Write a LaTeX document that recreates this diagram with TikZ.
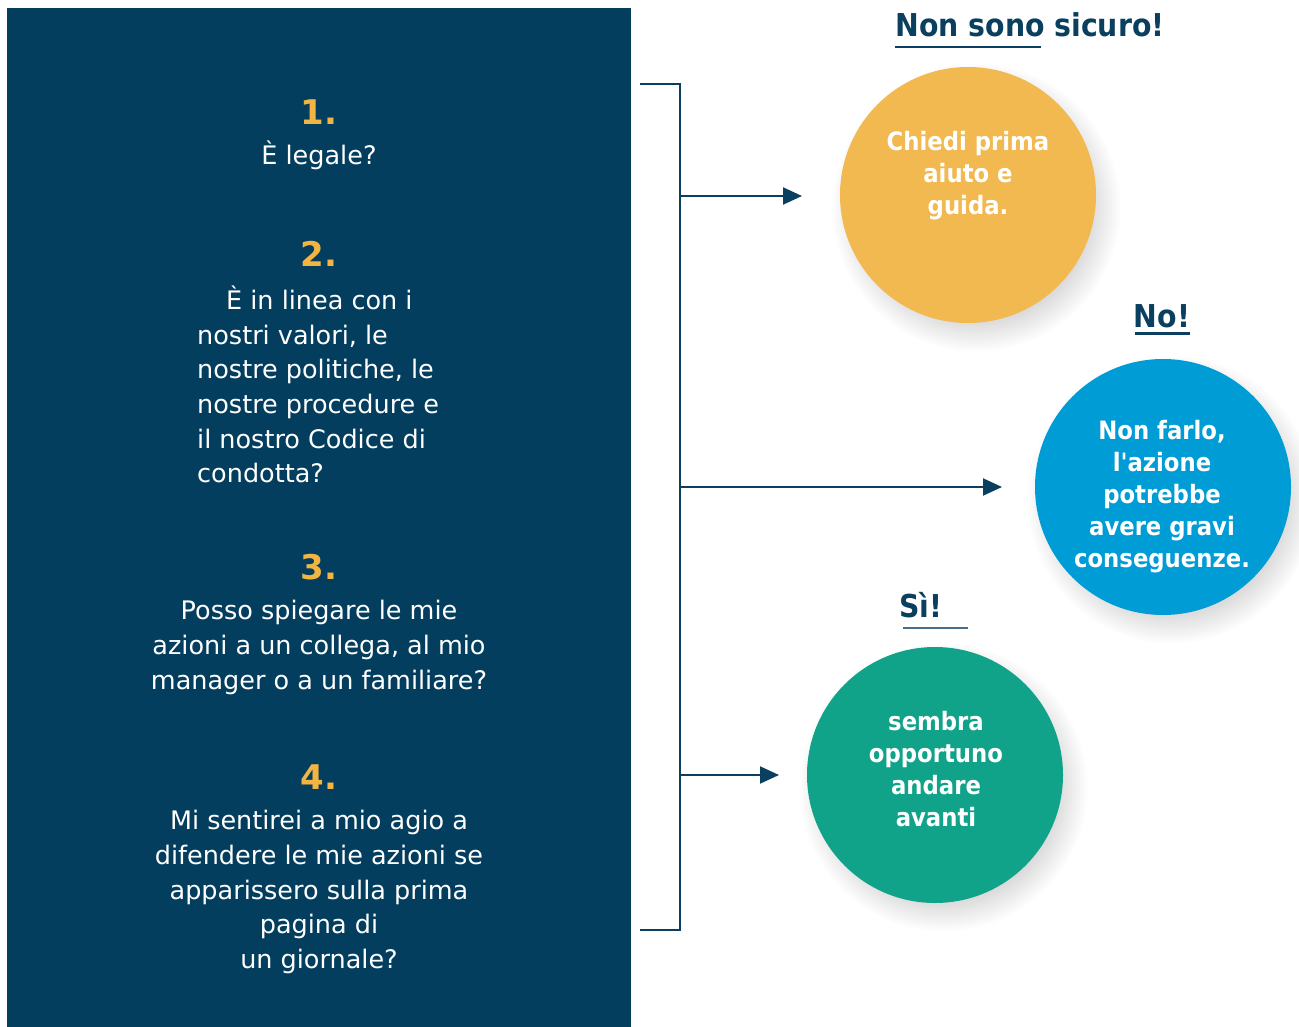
\documentclass[tikz,border=0pt]{standalone}
\usepackage{fontspec}
\setmainfont{DejaVu Sans}
\newfontfamily\condfont{DejaVu Sans Condensed}
\usetikzlibrary{arrows.meta}
\definecolor{panel}{RGB}{4,62,94}
\definecolor{navy}{RGB}{10,63,95}
\definecolor{cyellow}{RGB}{242,185,80}
\definecolor{numyellow}{RGB}{242,181,66}
\definecolor{cblue}{RGB}{0,156,214}
\definecolor{cgreen}{RGB}{17,163,138}
\definecolor{subline}{RGB}{70,110,140}
\pgfdeclareradialshading{softshadow}{\pgfpoint{0bp}{0bp}}{color(0bp)=(black!16); color(19bp)=(black!16); color(25bp)=(white); color(50bp)=(white)}
\tikzset{
  qnum/.style={font=\fontsize{34}{34}\selectfont\bfseries, text=numyellow, inner sep=0pt, anchor=base},
  qtext/.style={font=\fontsize{25.5}{34.6}\selectfont, text=white, inner sep=0pt},
  bubble/.style={circle, minimum size=256pt, inner sep=0pt},
  shadowdisc/.style={circle, minimum size=290pt, inner sep=0pt, shading=softshadow},
  btext/.style={inner sep=0pt, text=white, font=\condfont\fontsize{25.3}{32}\selectfont\bfseries, align=center},
  ttl/.style={font=\condfont\fontsize{31.5}{31.5}\selectfont\bfseries, text=navy, inner sep=0pt, anchor=base},
  conn/.style={draw=navy, line width=2pt},
  arr/.style={conn, -{Triangle[length=19pt 0 1,width=17pt 0 1]}}
}
\begin{document}
\begin{tikzpicture}[x=1pt,y=-1pt]
\useasboundingbox (0,0) rectangle (1299,1027);
\fill[white] (0,0) rectangle (1299,1027);
% left panel
\fill[panel] (7,8) rectangle (631,1027);

\node[qnum] (n1) at (319,125) {1.};
\node[qtext, anchor=base] (q1) at (319,165) {È legale?};

\node[qnum] (n2) at (319,266) {2.};
\node[qtext, anchor=west, align=left] (q2) at (197,384.5) {\hspace*{29pt}È in linea con i\\nostri valori, le\\nostre politiche, le\\nostre procedure e\\il nostro Codice di\\condotta?};

\node[qnum] (n3) at (319,579) {3.};
\node[qtext, align=center] (q3) at (319,647.5) {Posso spiegare le mie\\azioni a un collega, al mio\\manager o a un familiare?};

\node[qnum] (n4) at (319,789) {4.};
\node[qtext, align=center] (q4) at (319,892) {Mi sentirei a mio agio a\\difendere le mie azioni se\\apparissero sulla prima\\pagina di\\un giornale?};

% bracket
\coordinate (bt) at (640,84);
\coordinate (btc) at (680,84);
\coordinate (bbc) at (680,930);
\coordinate (bb) at (640,930);
\draw[conn] (bt) -- (btc) -- (bbc) -- (bb);

\coordinate (s1) at (680,196);
\coordinate (e1) at (802,196);
\coordinate (s2) at (680,487);
\coordinate (e2) at (1002,487);
\coordinate (s3) at (680,775);
\coordinate (e3) at (779,775);
\draw[arr] (s1) -- (e1);
\draw[arr] (s2) -- (e2);
\draw[arr] (s3) -- (e3);

% shadows
\node[shadowdisc] (sy) at (976,207) {};
\node[shadowdisc] (sb) at (1171,499) {};
\node[shadowdisc] (sg) at (943,787) {};

% bubbles
\node[bubble, fill=cyellow] (cy) at (968,195) {};
\node[btext] (ty) at (968,176) {Chiedi prima\\aiuto e\\guida.};
\node[bubble, fill=cblue] (cb) at (1163,487) {};
\node[btext] (tb) at (1162,496.5) {Non farlo,\\l'azione\\potrebbe\\avere gravi\\conseguenze.};
\node[bubble, fill=cgreen] (cg) at (935,775) {};
\node[btext] (tg) at (936,769) {sembra\\opportuno\\andare\\avanti};

% titles
\node[ttl] (t1) at (1030,37) {Non sono sicuro!};
\coordinate (u1a) at (895,47);
\coordinate (u1b) at (1041,47);
\draw[navy, line width=2pt] (u1a) -- (u1b);

\node[ttl] (t2) at (1162,327) {No!};
\coordinate (u2a) at (1135,333);
\coordinate (u2b) at (1190,333);
\draw[navy, line width=3pt] (u2a) -- (u2b);

\node[ttl] (t3) at (921,617) {Sì!};
\coordinate (u3a) at (903,628);
\coordinate (u3b) at (968,628);
\draw[subline, line width=2pt] (u3a) -- (u3b);
\end{tikzpicture}
\end{document}
